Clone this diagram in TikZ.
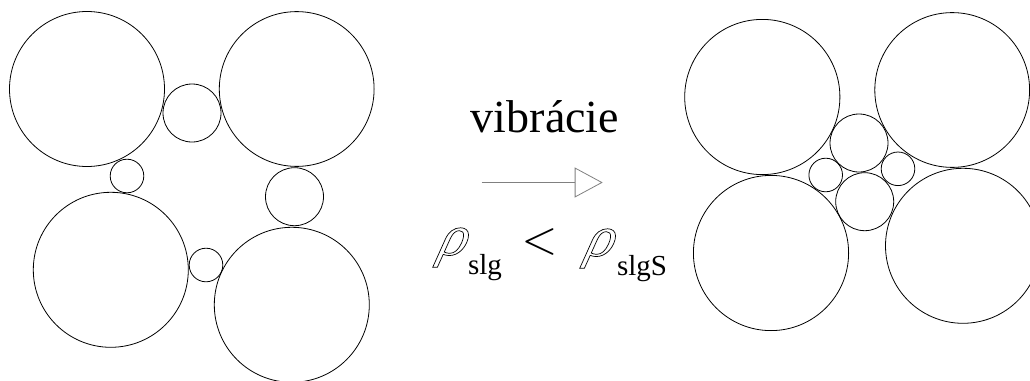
\documentclass[tikz,border=0pt]{standalone}
\usepackage{fontspec}
\usepackage{graphicx}
\setmainfont{Liberation Serif}
\newfontfamily\rhofont[FakeSlant=0.45]{Liberation Serif}
\usetikzlibrary{arrows.meta}
\newcommand\outlinetext[1]{\special{pdf:literal direct 1 Tr 0.7 w}#1\special{pdf:literal direct 0 Tr}}
\newcommand\dens[3]{\makebox[#1][l]{\rhofont\fontsize{58}{58}\selectfont\outlinetext{#2}}\raisebox{-19pt}{\fontsize{29}{29}\selectfont #3}}
\begin{document}
\begin{tikzpicture}[x=1pt,y=-1pt,
  grain/.style={draw=black,line width=0.8pt},
  lbl/.style={inner sep=0pt,outer sep=0pt,anchor=base},
  big/.style={lbl,font=\fontsize{46}{46}\selectfont},
  rel/.style={inner sep=0pt,outer sep=0pt,anchor=base west}]
\path[use as bounding box] (0,0) rectangle (1030,380);
\clip (0,0) rectangle (1030,380);
% left packing
\draw[grain] (87,89) circle (77.5);
\draw[grain] (296.7,89) circle (77.4);
\draw[grain] (192,113) circle (29);
\draw[grain] (127,176) circle (16.8);
\draw[grain] (294.5,196.7) circle (29);
\draw[grain] (110.8,269.8) circle (77.5);
\draw[grain] (206,265) circle (16.8);
\draw[grain] (291.8,304.8) circle (77.5);
% right packing
\draw[grain] (762.3,97) circle (77.6);
\draw[grain] (952.2,90) circle (77.4);
\draw[grain] (771,253) circle (77.6);
\draw[grain] (963,245.8) circle (77.5);
\draw[grain] (859,143) circle (29);
\draw[grain] (864.7,201.7) circle (29);
\draw[grain] (825.7,175) circle (16.8);
\draw[grain] (898,168.8) circle (16.8);
% label and arrow
\node[big] (vib) at (545,132.7) {vibrácie};
\coordinate (a1) at (481.7,182.5);
\coordinate (a2) at (602.7,182.5);
\draw[black!50,line width=0.8pt,-{Triangle[open,length=28pt,width=30pt]}] (a1) -- (a2);
% density relation
\node[rel] (d1) at (434.5,255) {\dens{33.5pt}{ρ}{slg}};
\node[lbl] (lt) at (539.5,253) {\scalebox{4.6}{$<$}};
\node[rel] (d2) at (581.5,256) {\dens{35.5pt}{ρ}{slgS}};
\end{tikzpicture}
\end{document}
